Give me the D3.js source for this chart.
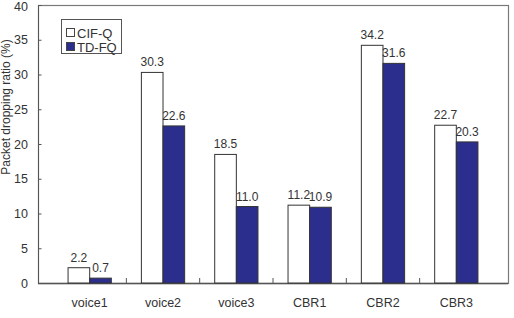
<!DOCTYPE html>
<html>
<head>
<meta charset="utf-8">
<script src="https://cdn.jsdelivr.net/npm/d3@7"></script>
<style>
  body { margin: 0; background: #fff; }
  svg { display: block; font-family: "Liberation Sans", Arial, sans-serif; }
</style>
</head>
<body>
<script>
var width = 514;
var height = 318;
var margin = {top: 5, right: 6, bottom: 35, left: 38};
var w = width - margin.left - margin.right;
var h = height - margin.top - margin.bottom;

// data
var categories = ["voice1", "voice2", "voice3", "CBR1", "CBR2", "CBR3"];
var seriesNames = ["CIF-Q", "TD-FQ"];
var cifq = [2.2, 30.3, 18.5, 11.2, 34.2, 22.7];
var tdfq = [0.7, 22.6, 11.0, 10.9, 31.6, 20.3];
var yTicks = [0, 5, 10, 15, 20, 25, 30, 35, 40];

var colors = {"CIF-Q": "#ffffff", "TD-FQ": "#2c2e8e"};
var textCol = "#333";
var fmt = d3.format(".1f");

var rows = categories.map(function(c, i) {
  return {cat: c, values: [
    {name: "CIF-Q", value: cifq[i]},
    {name: "TD-FQ", value: tdfq[i]}
  ]};
});

var svg = d3.select("body").append("svg")
    .attr("width", width)
    .attr("height", height);

var chart = svg.append("g")
    .attr("transform", "translate(" + margin.left + "," + margin.top + ")");

var x0 = d3.scaleBand()
    .domain(categories)
    .range([0, w])
    .padding(0.41);

var x1 = d3.scaleBand()
    .domain(seriesNames)
    .range([0, x0.bandwidth()]);

var y = d3.scaleLinear()
    .domain([0, 40])
    .range([h, 0]);

// frame
chart.append("rect")
    .attr("x", 0.5)
    .attr("y", 0.5)
    .attr("width", w)
    .attr("height", h)
    .attr("fill", "none")
    .attr("stroke", "#7a7a7a")
    .attr("stroke-width", 1.2);

// y axis
var yAxis = d3.axisLeft(y).tickValues(yTicks).tickSizeInner(-3).tickSizeOuter(0).tickPadding(10);
var gy = chart.append("g").attr("class", "y axis").call(yAxis);
gy.select(".domain").attr("stroke", "#555");
gy.selectAll(".tick line").attr("stroke", "#555").attr("transform", "translate(0.5,0)");
gy.selectAll("text").attr("fill", textCol).style("font-size", "12.5px");
// keep the top label inside the page
gy.selectAll(".tick text").filter(function(d) { return d === 40; }).attr("dy", "0.45em");

// x axis: ticks at the category borders, pointing up
var gx = chart.append("g")
    .attr("class", "x axis")
    .attr("transform", "translate(0," + h + ")");
gx.append("line")
    .attr("x1", 0).attr("x2", w)
    .attr("y1", 0.5).attr("y2", 0.5)
    .attr("stroke", "#555")
    .attr("stroke-width", 1.3);
var step = x0.step();
gx.selectAll(".border")
    .data(categories.slice(1))
    .enter().append("line")
    .attr("x1", function(d) { return x0(d) - x0.paddingInner() * step / 2; })
    .attr("x2", function(d) { return x0(d) - x0.paddingInner() * step / 2; })
    .attr("y1", -5).attr("y2", 0)
    .attr("stroke", "#555");
gx.selectAll(".lab")
    .data(categories)
    .enter().append("text")
    .attr("x", function(d) { return x0(d) + x0.bandwidth() / 2; })
    .attr("y", 24)
    .attr("text-anchor", "middle")
    .attr("fill", textCol)
    .style("font-size", "12.5px")
    .text(function(d) { return d; });

// bars
var groups = chart.selectAll(".grp")
    .data(rows)
    .enter().append("g")
    .attr("class", "grp")
    .attr("transform", function(d) { return "translate(" + x0(d.cat) + ",0)"; });

groups.selectAll("rect")
    .data(function(d) { return d.values; })
    .enter().append("rect")
    .attr("x", function(d) { return x1(d.name); })
    .attr("y", function(d) { return y(d.value); })
    .attr("width", x1.bandwidth())
    .attr("height", function(d) { return h - y(d.value); })
    .attr("fill", function(d) { return colors[d.name]; })
    .attr("stroke", "#333")
    .attr("stroke-width", 1);

groups.selectAll(".val")
    .data(function(d) { return d.values; })
    .enter().append("text")
    .attr("class", "val")
    .attr("x", function(d) { return x1(d.name) + x1.bandwidth() / 2; })
    .attr("y", function(d) { return y(d.value) - 6; })
    .attr("text-anchor", "middle")
    .attr("fill", textCol)
    .style("font-size", "12px")
    .text(function(d) { return fmt(d.value); });

// legend
var legend = chart.append("g").attr("transform", "translate(23,14)");
legend.append("rect")
    .attr("x", 0.5).attr("y", 0.5)
    .attr("width", 60).attr("height", 34)
    .attr("fill", "#fff")
    .attr("stroke", "#555");
seriesNames.forEach(function(s, i) {
  legend.append("rect")
      .attr("x", 5.5).attr("y", 9.5 + i * 14)
      .attr("width", 8).attr("height", 8)
      .attr("fill", colors[s])
      .attr("stroke", "#444");
  legend.append("text")
      .attr("x", 16).attr("y", 18.5 + i * 14)
      .attr("fill", textCol)
      .style("font-size", "13px")
      .text(s);
});

// y label
svg.append("text")
    .attr("transform", "translate(10," + 107 + ") rotate(-90)")
    .attr("text-anchor", "middle")
    .attr("fill", textCol)
    .style("font-size", "12px")
    .text("Packet dropping ratio (%)");
</script>
</body>
</html>
